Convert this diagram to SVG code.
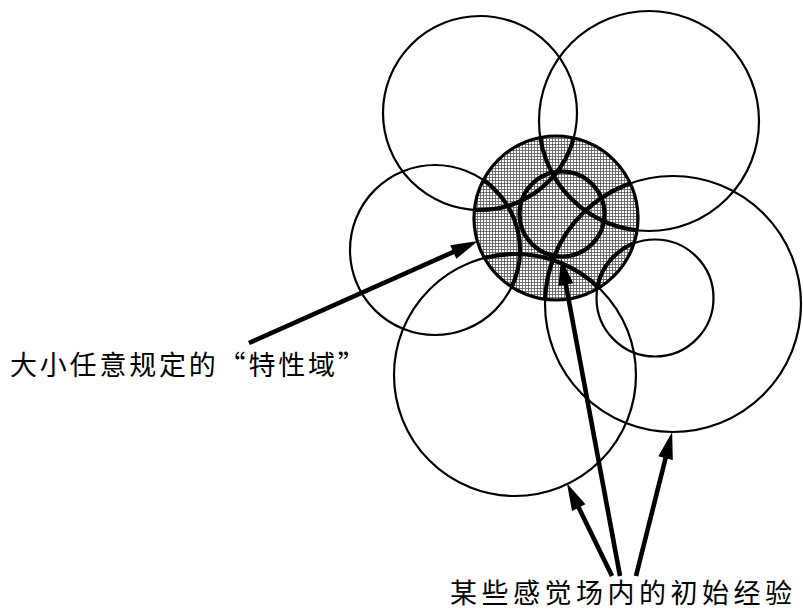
<svg xmlns="http://www.w3.org/2000/svg" width="803" height="613" viewBox="0 0 803 613">
<style>
.c{fill:none;stroke:#000;stroke-width:2.2}
.t{fill:none;stroke:#000;stroke-width:4.2}
.a{fill:none;stroke:#000;stroke-width:4.6}
.lbl{font-family:"Noto Sans CJK SC","Noto Sans",sans-serif;font-size:27px;fill:#000}
</style>
<defs>
<pattern id="hatch" width="3" height="3" patternUnits="userSpaceOnUse">
<rect width="3" height="3" fill="#fff"/>
<rect width="3" height="0.8" fill="#555"/>
<rect width="0.8" height="3" fill="#555"/>
</pattern>
<clipPath id="clipD"><circle cx="556" cy="218" r="82"/></clipPath>
<marker id="ah" markerUnits="userSpaceOnUse" markerWidth="30" markerHeight="20" refX="0" refY="0" orient="auto" style="overflow:visible"><path d="M-1,-7.5 L26,0 L-1,7.5 z" fill="#000"/></marker>
</defs>
<g id="field-A"><circle class="c" cx="480" cy="113" r="97"/></g>
<g id="field-B"><circle class="c" cx="649" cy="121" r="110"/></g>
<g id="field-C"><circle class="c" cx="435" cy="250" r="85"/></g>
<g id="field-F"><circle class="c" cx="673" cy="304" r="128"/></g>
<g id="field-G"><circle class="c" cx="655" cy="298" r="58.5"/></g>
<g id="field-H"><circle class="c" cx="515" cy="375" r="121"/></g>
<g id="domain">
<circle cx="556" cy="218" r="82" fill="url(#hatch)" stroke="none"/>
<g clip-path="url(#clipD)">
<circle class="t" cx="480" cy="113" r="97"/>
<circle class="t" cx="649" cy="121" r="110"/>
<circle class="t" cx="435" cy="250" r="85"/>
<circle class="t" cx="673" cy="304" r="128"/>
<circle class="t" cx="655" cy="298" r="58.5"/>
<circle class="t" cx="515" cy="375" r="121"/>
</g>
<circle class="t" cx="562" cy="214" r="42.5"/>
<circle cx="556" cy="218" r="82" fill="none" stroke="#000" stroke-width="3.2"/>
</g>
<g id="connectors">
<line class="a" x1="249" y1="343" x2="454.2" y2="251.6" marker-end="url(#ah)"/>
<line class="a" x1="620" y1="576" x2="565.7" y2="283.6" marker-end="url(#ah)"/>
<line class="a" x1="612" y1="576" x2="578.3" y2="506.7" marker-end="url(#ah)"/>
<line class="a" x1="636" y1="576" x2="665.8" y2="457.2" marker-end="url(#ah)"/>
</g>
<g id="label-domain"><text class="lbl" x="10" y="375" letter-spacing="2.8">大小任意规定的“特性域”</text></g>
<g id="label-fields"><text class="lbl" x="450" y="603" letter-spacing="4.5">某些感觉场内的初始经验</text></g>
</svg>
